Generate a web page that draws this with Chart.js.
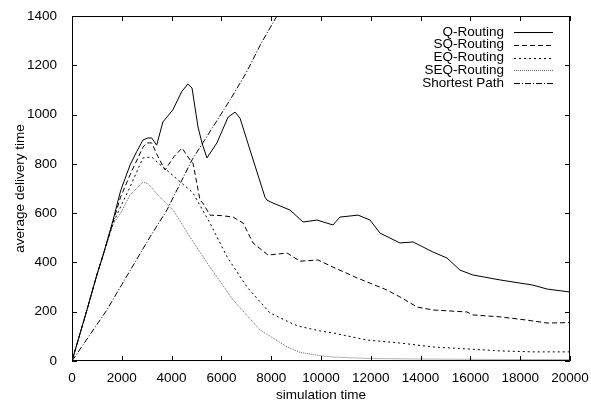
<!DOCTYPE html>
<html>
<head>
<meta charset="utf-8">
<script src="https://cdn.jsdelivr.net/npm/chart.js@4.4.0/dist/chart.umd.min.js"></script>
<style>
  html, body { margin: 0; padding: 0; background: #fff; }
  #chart { display: block; }
</style>
</head>
<body>
<canvas id="chart" width="591" height="403"></canvas>
<script>
// values
const qX = [0, 600, 1000, 1250, 1650, 1950, 2330, 2600, 2850, 3050, 3200, 3400, 3650, 4050, 4400, 4650, 4820, 5060, 5220, 5420, 5820, 6270, 6550, 6750, 7150, 7750, 7830, 8070, 8750, 9280, 9840, 10480, 10760, 11490, 11970, 12370, 13170, 13700, 14500, 15060, 15580, 16100, 17190, 18510, 19080, 20000];
const qY = [0, 207, 350, 430, 572, 690, 795, 850, 897, 905, 905, 876, 970, 1019, 1092, 1124, 1108, 950, 885, 824, 885, 990, 1010, 985, 856, 665, 653, 641, 613, 564, 572, 552, 584, 592, 572, 519, 479, 483, 442, 418, 369, 349, 329, 308, 292, 280];

const sqX = [0, 600, 1000, 1250, 1650, 1950, 2330, 2850, 3000, 3200, 3450, 3735, 4100, 4420, 4740, 4860, 5140, 5260, 5540, 6000, 6470, 6870, 7270, 7870, 8640, 9160, 9880, 10480, 11450, 11970, 12650, 13170, 13860, 14500, 15860, 16100, 17190, 18270, 19080, 20000];
const sqY = [0, 207, 350, 430, 565, 665, 755, 868, 885, 885, 830, 775, 830, 864, 816, 803, 653, 640, 592, 590, 584, 560, 479, 430, 438, 405, 410, 381, 337, 316, 288, 260, 219, 207, 199, 187, 179, 166, 154, 156];

const eqX = [0, 600, 1000, 1250, 1650, 1950, 2330, 2850, 3200, 3500, 3940, 4860, 5540, 6230, 7030, 7950, 8880, 9160, 9960, 10480, 11850, 13170, 14500, 15860, 17190, 18510, 20000];
const eqY = [0, 207, 350, 430, 560, 625, 706, 824, 828, 800, 763, 682, 560, 422, 300, 195, 150, 140, 122, 114, 85, 73, 57, 49, 41, 37, 37];

const seqX = [0, 600, 1000, 1250, 1650, 1950, 2330, 2850, 3050, 3530, 4060, 4740, 5540, 6470, 7550, 8640, 9160, 9960, 10480, 12000, 14000, 16000, 18000, 20000];
const seqY = [0, 207, 350, 430, 555, 600, 674, 726, 720, 665, 613, 503, 381, 248, 126, 57, 35, 22, 16, 10, 8, 7, 6, 6];

const spX = [0, 1400, 2000, 3130, 3815, 4820, 6345, 7000, 7600, 8230, 8600];
const spY = [0, 207, 310, 503, 613, 816, 1059, 1170, 1290, 1400, 1460];

const labels = ['Q-Routing', 'SQ-Routing', 'EQ-Routing', 'SEQ-Routing', 'Shortest Path'];
const xTicks = [0, 20000, 2000];   // min, max, step
const yTicks = [0, 1400, 200];

const FONT = 'Liberation Sans, Arial, Helvetica, sans-serif';

function pts(xs, ys) {
    return xs.map((x, i) => ({ x: x, y: ys[i] }));
}

// gnuplot style frame with inward ticks on all four sides
const framePlugin = {
    id: 'frame',
    afterDatasetsDraw(chart) {
        const { ctx, chartArea: a, scales } = chart;
        ctx.save();
        ctx.strokeStyle = '#000';
        ctx.lineWidth = 1;
        ctx.beginPath();
        ctx.rect(a.left + 0.5, a.top + 0.5, a.right - a.left - 1, a.bottom - a.top - 1);
        const len = 5;
        scales.x.ticks.forEach(t => {
            const px = Math.round(scales.x.getPixelForValue(t.value)) + 0.5;
            ctx.moveTo(px, a.bottom); ctx.lineTo(px, a.bottom - len);
            ctx.moveTo(px, a.top); ctx.lineTo(px, a.top + len);
        });
        scales.y.ticks.forEach(t => {
            const py = Math.round(scales.y.getPixelForValue(t.value)) + 0.5;
            ctx.moveTo(a.left, py); ctx.lineTo(a.left + len, py);
            ctx.moveTo(a.right, py); ctx.lineTo(a.right - len, py);
        });
        ctx.stroke();
        ctx.restore();
    }
};

// key in the top right corner: text right aligned, line sample after it
const keyPlugin = {
    id: 'key',
    afterDraw(chart) {
        const { ctx, chartArea: a } = chart;
        ctx.save();
        ctx.font = '13.5px ' + FONT;
        ctx.textAlign = 'right';
        ctx.textBaseline = 'middle';
        chart.data.datasets.forEach((ds, i) => {
            const y = a.top + 16 + i * 12.75;
            ctx.fillStyle = '#000';
            ctx.fillText(ds.label, a.right - 66, y);
            ctx.strokeStyle = ds.borderColor;
            ctx.lineWidth = 1;
            ctx.setLineDash(ds.borderDash);
            ctx.beginPath();
            ctx.moveTo(a.right - 56, Math.round(y) + 0.5);
            ctx.lineTo(a.right - 17, Math.round(y) + 0.5);
            ctx.stroke();
        });
        ctx.restore();
    }
};

const lineStyle = (label, data, color, dash) => ({
    label: label,
    data: data,
    borderColor: color,
    borderDash: dash,
    borderWidth: 1,
    pointRadius: 0,
    tension: 0,
    fill: false
});

const plain = v => String(v);

new Chart(document.getElementById('chart').getContext('2d'), {
    type: 'line',
    data: {
        datasets: [
            lineStyle(labels[0], pts(qX, qY), '#000', []),
            lineStyle(labels[1], pts(sqX, sqY), '#000', [5, 3]),
            lineStyle(labels[2], pts(eqX, eqY), '#000', [2, 3]),
            lineStyle(labels[3], pts(seqX, seqY), '#666', [1, 1]),
            lineStyle(labels[4], pts(spX, spY), '#000', [6, 2, 1, 2])
        ]
    },
    options: {
        responsive: false,
        animation: false,
        layout: { padding: { left: 0, right: 21, top: 16, bottom: 0 } },
        plugins: { legend: { display: false }, tooltip: { enabled: false } },
        scales: {
            x: {
                type: 'linear',
                min: xTicks[0], max: xTicks[1],
                grid: { display: false },
                border: { display: false },
                ticks: { stepSize: xTicks[2], maxRotation: 0, autoSkip: false, padding: 1, color: '#000', callback: plain, font: { family: FONT, size: 13.5 } },
                title: { display: true, text: 'simulation time', color: '#000', padding: { top: 0, bottom: 0 }, font: { family: FONT, size: 13.5, lineHeight: 1.1 } },
                afterFit(scale) { scale.height = 42; }
            },
            y: {
                min: yTicks[0], max: yTicks[1],
                grid: { display: false },
                border: { display: false },
                ticks: { stepSize: yTicks[2], padding: 7, color: '#000', callback: plain, font: { family: FONT, size: 13.5 } },
                title: { display: true, text: 'average delivery time', color: '#000', padding: { top: 14, bottom: 0 }, font: { family: FONT, size: 13.5, lineHeight: 1 } },
                afterFit(scale) { scale.width = 72; }
            }
        }
    },
    plugins: [framePlugin, keyPlugin]
});
</script>
</body>
</html>
